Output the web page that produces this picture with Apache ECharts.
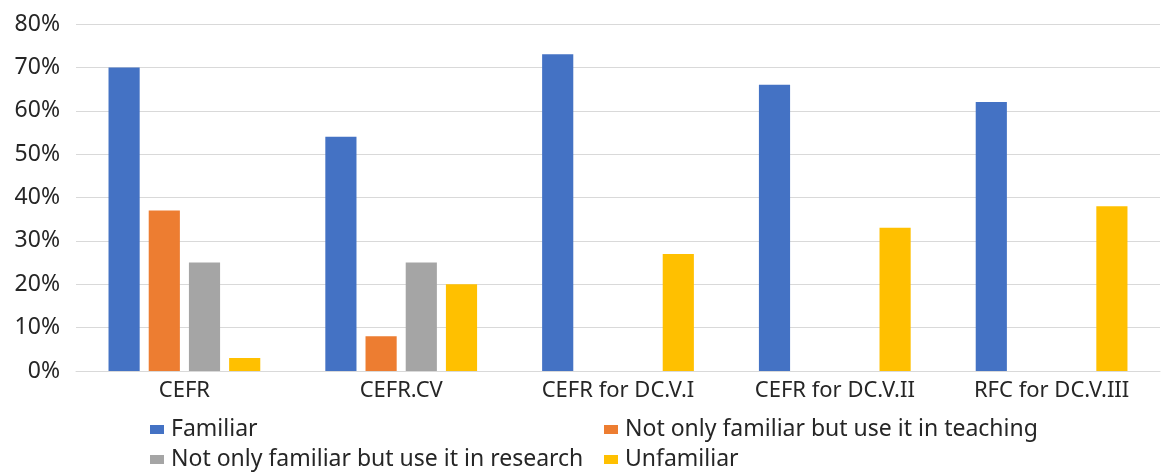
<!DOCTYPE html>
<html>
<head>
<meta charset="utf-8">
<script src="https://cdn.jsdelivr.net/npm/echarts@6/dist/echarts.min.js"></script>
<style>
html,body{margin:0;padding:0;background:#fff;}
#main{width:1162px;height:473px;}
</style>
</head>
<body>
<div id="main"></div>
<script>
const categories = ['CEFR', 'CEFR.CV', 'CEFR for DC.V.I', 'CEFR for DC.V.II', 'RFC for DC.V.III'];
const seriesNames = ['Familiar', 'Not only familiar but use it in teaching', 'Not only familiar but use it in research', 'Unfamiliar'];
const familiar = [70, 54, 73, 66, 62];
const teaching = [37, 8, null, null, null];
const research = [25, 25, null, null, null];
const unfamiliar = [3, 20, 27, 33, 38];
const yTicks = [0, 10, 20, 30, 40, 50, 60, 70, 80];
const colors = ['#4472C4', '#ED7D31', '#A5A5A5', '#FFC000'];

const values = [familiar, teaching, research, unfamiliar];
const font = 'Noto Sans';
const textColor = '#262626';

const legendPos = [
  {left: 150, top: 418},
  {left: 604, top: 418},
  {left: 150, top: 448},
  {left: 604, top: 448}
];

const chart = echarts.init(document.getElementById('main'), null, {renderer: 'canvas'});
chart.setOption({
  animation: false,
  backgroundColor: '#ffffff',
  color: colors,
  grid: {left: 76, right: 2, top: 24, bottom: 102, containLabel: false},
  legend: seriesNames.map((n, i) => ({
    data: [n],
    left: legendPos[i].left,
    top: legendPos[i].top,
    padding: 0,
    itemWidth: 14,
    itemHeight: 9,
    itemGap: 0,
    icon: 'rect',
    textStyle: {fontFamily: font, fontSize: 23, color: textColor, padding: [0, 0, 0, 2]},
    selectedMode: false
  })),
  xAxis: {
    type: 'category',
    data: categories,
    axisTick: {show: false},
    axisLine: {lineStyle: {color: '#d9d9d9', width: 1}},
    axisLabel: {fontFamily: font, fontSize: 22, color: textColor, margin: 9, interval: 0, hideOverlap: false}
  },
  yAxis: {
    type: 'value',
    min: yTicks[0],
    max: yTicks[yTicks.length - 1],
    interval: 10,
    axisLine: {show: false},
    axisTick: {show: false},
    splitLine: {lineStyle: {color: '#d9d9d9', width: 1}},
    axisLabel: {fontFamily: font, fontSize: 23, color: textColor, margin: 16, formatter: v => v + '%'}
  },
  series: seriesNames.map((n, i) => ({
    name: n,
    type: 'bar',
    data: values[i],
    barGap: '29%',
    barCategoryGap: '30%',
    itemStyle: {color: colors[i]}
  }))
});
</script>
</body>
</html>
